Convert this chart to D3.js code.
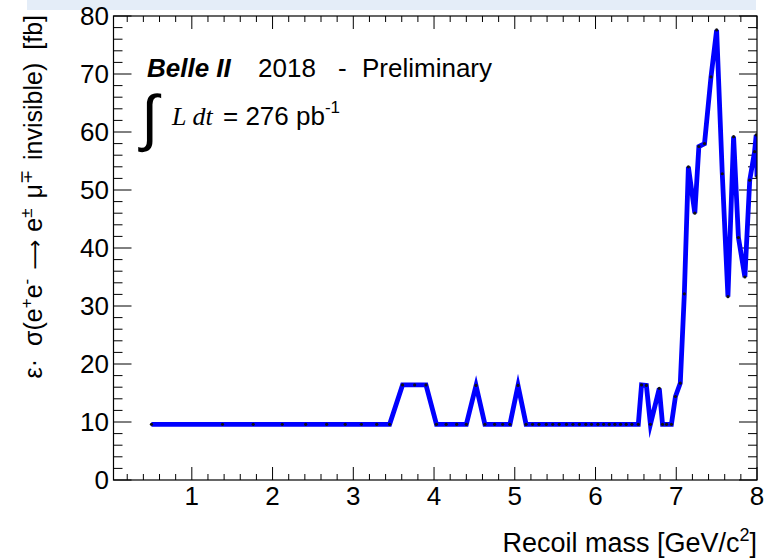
<!DOCTYPE html>
<html>
<head>
<meta charset="utf-8">
<script src="https://cdn.jsdelivr.net/npm/d3@7"></script>
<style>
  html, body { margin: 0; padding: 0; background: #ffffff; }
  svg { display: block; }
  text { font-family: "Liberation Sans", Arial, Helvetica, sans-serif; fill: #000; }
</style>
</head>
<body>
<svg id="chart" width="773" height="560"></svg>
<script>
// Recoil mass scan points [GeV/c^2]
const mass = [0.5, 1.38, 1.76, 2.12, 2.41, 2.67, 2.90, 3.10, 3.29, 3.45,
  3.61, 3.76, 3.90, 4.03, 4.15, 4.28, 4.40, 4.52, 4.63, 4.75,
  4.85, 4.94, 5.04, 5.14, 5.22, 5.30, 5.39, 5.47, 5.55, 5.64,
  5.72, 5.80, 5.88, 5.95, 6.03, 6.10, 6.17, 6.24, 6.31, 6.38,
  6.45, 6.53, 6.57, 6.63, 6.68, 6.79, 6.83, 6.88, 6.94, 6.99,
  7.05, 7.10, 7.15, 7.23, 7.28, 7.35, 7.43, 7.50, 7.57, 7.64,
  7.71, 7.77, 7.85, 7.91, 7.97, 7.99, 8.0];

// Efficiency x cross-section upper limit [fb]
const xsec = [9.6, 9.6, 9.6, 9.6, 9.6, 9.6, 9.6, 9.6, 9.6, 9.6,
  16.4, 16.4, 16.4, 9.6, 9.6, 9.6, 9.6, 16.3, 9.6, 9.6,
  9.6, 9.6, 16.3, 9.6, 9.6, 9.6, 9.6, 9.6, 9.6, 9.6,
  9.6, 9.6, 9.6, 9.6, 9.6, 9.6, 9.6, 9.6, 9.6, 9.6,
  9.6, 9.6, 16.4, 16.3, 9.6, 15.8, 9.6, 9.6, 9.6, 14.4,
  16.7, 32.1, 54.0, 46.0, 57.5, 58.0, 69.5, 77.6, 52.8, 31.6,
  59.2, 41.8, 35.0, 51.7, 56.6, 59.5, 52.3];

const xTickLabels = ["1", "2", "3", "4", "5", "6", "7", "8"];
const yTickLabels = ["0", "10", "20", "30", "40", "50", "60", "70", "80"];

const svg = d3.select("#chart");

// pale banner strip along the top edge
svg.append("rect")
  .attr("x", 27).attr("y", 0).attr("width", 729).attr("height", 10)
  .attr("fill", "#e4edf8");

const frame = { left: 113.5, right: 757, top: 16, bottom: 480 };

const x = d3.scaleLinear().domain([0.03, 8.0]).range([frame.left, frame.right]);
const y = d3.scaleLinear().domain([0, 80]).range([frame.bottom, frame.top]);

// ROOT-style inward ticks on all four sides
const majX = xTickLabels.map(Number);
const minX = d3.range(1, 40).map(i => i * 0.2).filter(v => v > 0.03 && Math.abs(v - Math.round(v)) > 1e-6);
const majY = yTickLabels.map(Number);
const minY = d3.range(1, 40).map(i => i * 2).filter(v => v % 10 !== 0);

const ticks = svg.append("g").attr("stroke", "#000").attr("stroke-width", 1);
function tickSet(vals, len, side) {
  vals.forEach(v => {
    if (side === "bottom") ticks.append("line").attr("x1", x(v)).attr("x2", x(v)).attr("y1", frame.bottom).attr("y2", frame.bottom - len);
    if (side === "top") ticks.append("line").attr("x1", x(v)).attr("x2", x(v)).attr("y1", frame.top).attr("y2", frame.top + len);
    if (side === "left") ticks.append("line").attr("y1", y(v)).attr("y2", y(v)).attr("x1", frame.left).attr("x2", frame.left + len);
    if (side === "right") ticks.append("line").attr("y1", y(v)).attr("y2", y(v)).attr("x1", frame.right).attr("x2", frame.right - len);
  });
}
tickSet(majX, 13, "bottom"); tickSet(minX, 6, "bottom");
tickSet(majX, 13, "top");    tickSet(minX, 6, "top");
tickSet(majY, 18, "left");   tickSet(minY, 9, "left");
tickSet(majY, 18, "right");  tickSet(minY, 9, "right");

// tick labels
svg.append("g").selectAll("text").data(xTickLabels).join("text")
  .attr("x", d => x(+d)).attr("y", 505)
  .attr("text-anchor", "middle").attr("font-size", 26)
  .text(d => d);
svg.append("g").selectAll("text").data(yTickLabels).join("text")
  .attr("x", 109).attr("y", d => y(+d) + 9)
  .attr("text-anchor", "end").attr("font-size", 26)
  .text(d => d);

// limit curve
svg.append("clipPath").attr("id", "plotArea")
  .append("rect").attr("x", frame.left).attr("y", frame.top)
  .attr("width", frame.right - frame.left).attr("height", frame.bottom - frame.top);

const pts = mass.map((m, i) => [m, xsec[i]]);
const line = d3.line().x(d => x(d[0])).y(d => y(d[1]));
const curve = svg.append("g").attr("clip-path", "url(#plotArea)");
curve.append("path").datum(pts)
  .attr("d", line)
  .attr("fill", "none").attr("stroke", "#0000ff")
  .attr("stroke-width", 4.8).attr("stroke-linejoin", "miter").attr("stroke-miterlimit", 6);
curve.selectAll("circle").data(pts).join("circle")
  .attr("cx", d => x(d[0])).attr("cy", d => y(d[1])).attr("r", 1.6)
  .attr("fill", "#111");

// frame
svg.append("rect")
  .attr("x", frame.left).attr("y", frame.top)
  .attr("width", frame.right - frame.left).attr("height", frame.bottom - frame.top)
  .attr("fill", "none").attr("stroke", "#000").attr("stroke-width", 1.2);

// axis titles
svg.append("text")
  .attr("x", frame.right).attr("y", 552)
  .attr("text-anchor", "end").attr("font-size", 27)
  .call(t => {
    t.append("tspan").text("Recoil mass [GeV/c");
    t.append("tspan").attr("font-size", 18).attr("dy", -11).text("2");
    t.append("tspan").attr("dy", 11).text("]");
  });

// rotated y title; each piece: text, superscript flag, gap before it, font family override
const yTitle = svg.append("text")
  .attr("transform", `translate(42, ${frame.top - 1}) rotate(-90)`)
  .attr("text-anchor", "end").attr("font-size", 25);
[["ε·", 0, 0, null], ["σ(e", 0, 13, null], ["+", 1, 0, null], ["e", 0, 0, null], ["-", 1, 0, null],
 ["⟶", 0, 9, "'DejaVu Sans'"], ["e", 0, 8, null], ["±", 1, 0, null], ["μ", 0, 10, null], ["∓", 1, 0, null],
 ["invisible)", 0, 10, null], ["[fb]", 0, 13, null]]
  .forEach(([s, sup, gap, fam], i, arr) => {
    const prevSup = i > 0 ? arr[i - 1][1] : 0;
    const dy = sup && !prevSup ? -10 : (!sup && prevSup ? 10 : 0);
    const ts = yTitle.append("tspan").attr("dy", dy).attr("dx", gap)
      .attr("font-size", sup ? 17 : 25).text(s);
    if (fam) ts.attr("font-family", fam).attr("font-size", 21);
  });

// experiment label
const head = svg.append("text").attr("y", 77).attr("font-size", 26);
head.append("tspan").attr("x", 147).attr("font-weight", "bold").attr("font-style", "italic").text("Belle II");
head.append("tspan").attr("x", 258).text("2018");
head.append("tspan").attr("x", 338).text("-");
head.append("tspan").attr("x", 362).text("Preliminary");

// integrated luminosity
svg.append("text").attr("x", 141).attr("y", 139).attr("font-size", 62)
  .attr("font-family", "'Liberation Serif', 'Times New Roman', serif").text("∫");
const lumi = svg.append("text").attr("y", 125).attr("font-size", 26);
lumi.append("tspan").attr("x", 172)
  .attr("font-family", "'Liberation Serif', 'Times New Roman', serif")
  .attr("font-style", "italic").text("L dt");
lumi.append("tspan").attr("x", 223).text("= 276 pb");
lumi.append("tspan").attr("font-size", 17).attr("dy", -12).text("-1");
</script>
</body>
</html>
